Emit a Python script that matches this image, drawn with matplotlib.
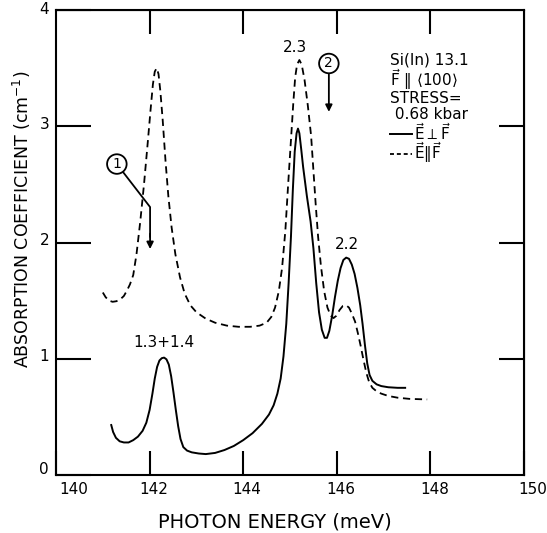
import matplotlib
matplotlib.use("Agg")
import matplotlib.pyplot as plt
import matplotlib.transforms as mtransforms
from matplotlib.lines import Line2D

# E perpendicular to F (solid trace)
energy_perp = [141.18, 141.22, 141.28, 141.36, 141.45, 141.55, 141.65, 141.75, 141.85, 141.93,
               142.00, 142.06, 142.11, 142.16, 142.21, 142.26, 142.31, 142.36, 142.41, 142.46,
               142.51, 142.56, 142.61, 142.66, 142.72, 142.80, 142.90, 143.05, 143.20, 143.40,
               143.60, 143.80, 144.00, 144.20, 144.40, 144.55, 144.65, 144.73, 144.80, 144.86,
               144.92, 144.97, 145.02, 145.06, 145.10, 145.14, 145.17, 145.20, 145.24, 145.28,
               145.36, 145.44, 145.50, 145.56, 145.62, 145.68, 145.74, 145.79, 145.84, 145.90,
               145.96, 146.02, 146.08, 146.14, 146.20, 146.26, 146.32, 146.38, 146.44, 146.50,
               146.55, 146.60, 146.65, 146.70, 146.76, 146.85, 146.95, 147.10, 147.30, 147.46]
absorb_perp = [0.43, 0.37, 0.32, 0.29, 0.28, 0.28, 0.30, 0.33, 0.38, 0.45,
               0.56, 0.70, 0.83, 0.93, 0.985, 1.005, 1.01, 0.995, 0.95, 0.85,
               0.71, 0.56, 0.42, 0.31, 0.24, 0.21, 0.195, 0.185, 0.18, 0.19,
               0.215, 0.25, 0.30, 0.36, 0.44, 0.52, 0.60, 0.70, 0.83, 1.02,
               1.30, 1.65, 2.05, 2.45, 2.78, 2.94, 2.98, 2.94, 2.80, 2.65,
               2.40, 2.18, 1.95, 1.65, 1.40, 1.25, 1.18, 1.18, 1.24, 1.37,
               1.53, 1.67, 1.78, 1.85, 1.87, 1.86, 1.81, 1.73, 1.61, 1.46,
               1.30, 1.12, 0.96, 0.86, 0.81, 0.78, 0.765, 0.755, 0.75, 0.75]

# E parallel to F (dashed trace)
energy_par = [141.00, 141.06, 141.13, 141.21, 141.29, 141.37, 141.45, 141.52, 141.58, 141.65,
              141.72, 141.80, 141.88, 141.96, 142.02, 142.07, 142.11, 142.15, 142.19, 142.23,
              142.28, 142.34, 142.40, 142.47, 142.55, 142.65, 142.75, 142.87, 143.00, 143.20,
              143.40, 143.65, 143.90, 144.15, 144.35, 144.50, 144.60, 144.68, 144.76, 144.83,
              144.90, 144.96, 145.02, 145.07, 145.11, 145.15, 145.20, 145.25, 145.31, 145.38,
              145.45, 145.50, 145.55, 145.60, 145.66, 145.73, 145.80, 145.87, 145.93, 145.99,
              146.06, 146.13, 146.20, 146.26, 146.32, 146.39, 146.45, 146.51, 146.57, 146.63,
              146.69, 146.76, 146.85, 146.95, 147.10, 147.30, 147.55, 147.93]
absorb_par = [1.57, 1.53, 1.50, 1.49, 1.495, 1.51, 1.54, 1.59, 1.64, 1.72,
              1.90, 2.18, 2.50, 2.86, 3.14, 3.36, 3.47, 3.50, 3.45, 3.30,
              3.05, 2.70, 2.40, 2.13, 1.90, 1.70, 1.56, 1.46, 1.40, 1.345,
              1.31, 1.285, 1.275, 1.275, 1.285, 1.31, 1.36, 1.44, 1.58, 1.78,
              2.10, 2.50, 2.88, 3.20, 3.42, 3.53, 3.57, 3.53, 3.40, 3.18,
              2.92, 2.62, 2.32, 2.05, 1.80, 1.58, 1.44, 1.37, 1.35, 1.37,
              1.42, 1.455, 1.46, 1.44, 1.39, 1.32, 1.22, 1.11, 0.99, 0.88,
              0.80, 0.75, 0.72, 0.70, 0.68, 0.665, 0.655, 0.65]

x_ticks = [140, 142, 144, 146, 148, 150]
y_ticks = [0, 1, 2, 3, 4]

peak_labels = ["1.3+1.4", "2.3", "2.2"]
peak_label_pos = [(142.31, 1.14), (145.11, 3.68), (146.22, 1.98)]

info_lines = ["Si(In) 13.1", r"$\vec{\mathrm{F}}\ \Vert\ \langle100\rangle$", "STRESS=", " 0.68 kbar"]
info_y = [3.57, 3.40, 3.24, 3.10]

fig = plt.figure(figsize=(5.47, 5.33), dpi=100)
ax = fig.add_axes([0.1024, 0.1088, 0.8556, 0.8724])

ax.plot(energy_perp, absorb_perp, color="black", lw=1.4)
ax.plot(energy_par, absorb_par, color="black", lw=1.3, linestyle=(0, (4, 2.6)))

ax.set_xlim(140, 150)
ax.set_ylim(0, 4)
for s in ax.spines.values():
    s.set_linewidth(1.5)

ax.set_xticks(x_ticks)
ax.set_yticks(y_ticks)
ax.set_xticklabels([str(t) for t in x_ticks])
ax.set_yticklabels([str(t) for t in y_ticks])
ax.tick_params(axis="x", direction="in", length=17, width=1.5, labelsize=11, pad=5)
ax.tick_params(axis="y", direction="in", length=25, width=1.5, labelsize=11, pad=5)

# nudge the end labels clear of the corners
dpi_tr = fig.dpi_scale_trans
x_shift = {0: 18, 5: 9}
for i, lab in enumerate(ax.get_xticklabels()):
    dx = x_shift.get(i, 4)
    lab.set_transform(lab.get_transform() + mtransforms.ScaledTranslation(dx / 100, 0, dpi_tr))
y_shift = {0: 7, 1: 4, 2: 4, 3: 3, 4: 2}
for i, lab in enumerate(ax.get_yticklabels()):
    lab.set_transform(lab.get_transform() + mtransforms.ScaledTranslation(0, y_shift[i] / 100, dpi_tr))

top = ax.secondary_xaxis("top")
top.set_xticks(x_ticks[1:-1])
top.tick_params(direction="in", length=17, width=1.5, labeltop=False)
right = ax.secondary_yaxis("right")
right.set_yticks(y_ticks[1:-1])
right.tick_params(direction="in", length=18, width=1.5, labelright=False)

ax.set_xlabel("PHOTON ENERGY (meV)", fontsize=14)
ax.xaxis.set_label_coords(0.468, -0.08)
ax.set_ylabel(r"ABSORPTION COEFFICIENT (cm$^{-1}$)", fontsize=12.5)
ax.yaxis.set_label_coords(-0.05, 0.55)

for txt, (px, py) in zip(peak_labels, peak_label_pos):
    ax.text(px, py, txt, ha="center", va="center", fontsize=11)

for txt, py in zip(info_lines, info_y):
    ax.text(147.14, py, txt, ha="left", va="center", fontsize=11)

handles = [Line2D([], [], color="black", lw=1.4),
           Line2D([], [], color="black", lw=1.3, linestyle=(0, (2.2, 1.6)))]
labels = [r"$\vec{\mathrm{E}}\perp\vec{\mathrm{F}}$", r"$\vec{\mathrm{E}}\Vert\vec{\mathrm{F}}$"]
ax.legend(handles, labels, loc="upper left", bbox_to_anchor=(147.14, 3.04),
          bbox_transform=ax.transData, frameon=False, fontsize=11, handlelength=1.4,
          handletextpad=0.15, labelspacing=-0.15, borderpad=0, borderaxespad=0)

# callout 1: kinked leader then a downward arrow
ax.plot([141.30, 142.01, 142.01], [2.675, 2.305, 2.05], color="black", lw=1.3)
ax.annotate("", xy=(142.01, 1.92), xytext=(142.01, 2.10),
            arrowprops=dict(arrowstyle="-|>", color="black", lw=1.3, mutation_scale=10))
ax.text(141.30, 2.675, "1", ha="center", va="center", fontsize=10,
        bbox=dict(boxstyle="circle,pad=0.2", fc="white", ec="black", lw=1.3))

# callout 2
ax.annotate("", xy=(145.83, 3.10), xytext=(145.83, 3.47),
            arrowprops=dict(arrowstyle="-|>", color="black", lw=1.3, mutation_scale=10))
ax.text(145.83, 3.54, "2", ha="center", va="center", fontsize=10,
        bbox=dict(boxstyle="circle,pad=0.2", fc="white", ec="black", lw=1.3))

fig.savefig("out.png", dpi=100)
